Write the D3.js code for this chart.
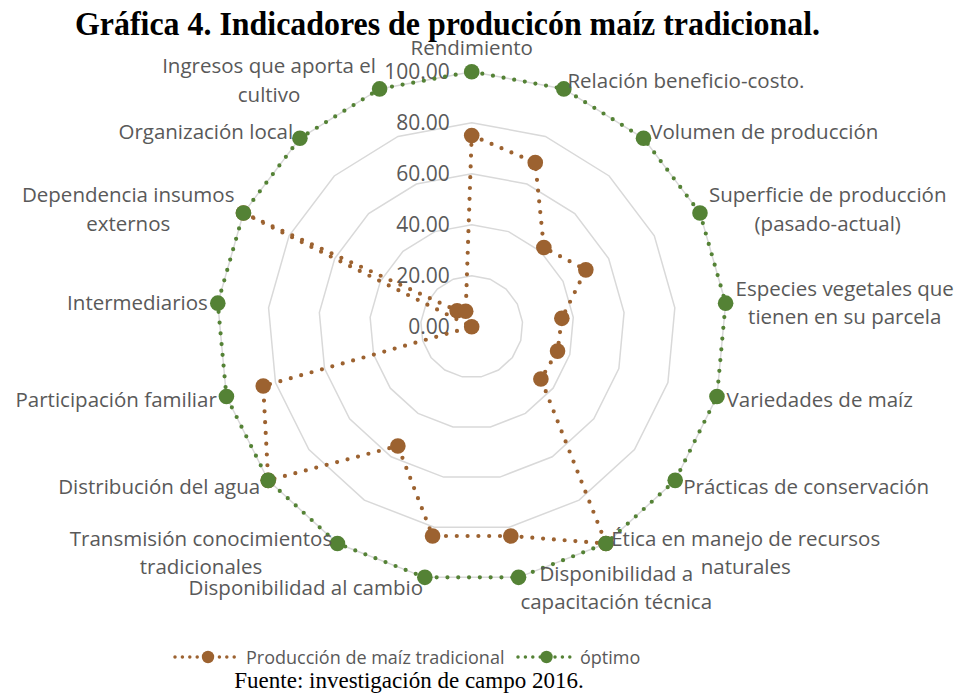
<!DOCTYPE html>
<html>
<head>
<meta charset="utf-8">
<script src="https://cdn.jsdelivr.net/npm/d3@7/dist/d3.min.js"></script>
<style>
  body { margin: 0; background: #fff; }
  text { font-family: "Open Sans", sans-serif; }
</style>
</head>
<body>
<svg id="chart" width="963" height="694"></svg>
<script>
// categories (clockwise from the top), "\n" marks a wrapped label
const categories = [
  "Rendimiento",
  "Relación beneficio-costo.",
  "Volumen de producción",
  "Superficie de producción\n(pasado-actual)",
  "Especies vegetales que\ntienen en su parcela",
  "Variedades de maíz",
  "Prácticas de conservación",
  "Ética en manejo de recursos\nnaturales",
  "Disponibilidad a\ncapacitación técnica",
  "Disponibilidad al cambio",
  "Transmisión conocimientos\ntradicionales",
  "Distribución del agua",
  "Participación familiar",
  "Intermediarios",
  "Dependencia insumos\nexternos",
  "Organización local",
  "Ingresos que aporta el\ncultivo"
];
const produccion = [75, 69, 42, 50, 35.5, 35, 34, 100, 83.5, 83.5, 55, 100, 85, 0, 100, 8.5, 6.5];
const optimo = [100, 100, 100, 100, 100, 100, 100, 100, 100, 100, 100, 100, 100, 100, 100, 100, 100];
const tickValues = [0, 20, 40, 60, 80, 100];
const seriesNames = ["Producción de maíz tradicional", "óptimo"];
const seriesColors = ["#9c6230", "#548235"];

const svg = d3.select('#chart');
const cx = 471.7, cy = 326.7, R = 255;
const n = categories.length;

const r = d3.scaleLinear().domain([0, 100]).range([0, R]);
const angle = d3.scaleLinear().domain([0, n]).range([0, 2 * Math.PI]);

const g = svg.append('g').attr('transform', `translate(${cx},${cy})`);

// grid rings (17-sided polygons)
const ring = d3.lineRadial()
  .angle((d, i) => angle(i))
  .radius(d => r(d))
  .curve(d3.curveLinearClosed);

g.selectAll('.ring')
  .data(tickValues.filter(v => v > 0))
  .enter()
  .append('path')
  .attr('class', 'ring')
  .attr('d', v => ring(d3.range(n).map(() => v)))
  .attr('fill', 'none')
  .attr('stroke', '#d9d9d9')
  .attr('stroke-width', 1.5);

// value axis labels
const yAxis = d3.axisLeft(d3.scaleLinear().domain([0, 100]).range([0, -R]))
  .tickValues(tickValues)
  .tickFormat(d3.format('.2f'))
  .tickSize(0)
  .tickPadding(22);

const ax = g.append('g').call(yAxis);
ax.select('.domain').remove();
ax.selectAll('text')
  .attr('font-family', '"Open Sans", sans-serif')
  .attr('font-size', 21)
  .attr('fill', '#595959')
  .attr('dy', '0.34em');

// series lines + markers
const line = d3.lineRadial()
  .angle((d, i) => angle(i))
  .radius(d => r(d))
  .curve(d3.curveLinearClosed);

[produccion, optimo].forEach((vals, s) => {
  g.append('path')
    .datum(vals)
    .attr('d', line)
    .attr('fill', 'none')
    .attr('stroke', seriesColors[s])
    .attr('stroke-width', 4.2)
    .attr('stroke-linecap', 'round')
    .attr('stroke-dasharray', '0 10.8');

  g.selectAll('.pt' + s)
    .data(vals)
    .enter()
    .append('circle')
    .attr('class', 'pt' + s)
    .attr('cx', (d, i) => r(d) * Math.sin(angle(i)))
    .attr('cy', (d, i) => -r(d) * Math.cos(angle(i)))
    .attr('r', 7.8)
    .attr('fill', seriesColors[s]);
});

// category labels
const lh = 28.5;
categories.forEach((cat, i) => {
  const a = angle(i);
  const sn = Math.sin(a), cs = Math.cos(a);
  const px = cx + (R + 10) * sn, py = cy - (R + 10) * cs;
  const lines = cat.split('\n');
  const t = svg.append('g');
  const texts = lines.map(l => t.append('text')
    .text(l)
    .attr('font-size', 20.5)
    .attr('fill', '#595959')
    .attr('text-anchor', 'middle')
    .attr('dominant-baseline', 'central'));
  const w = d3.max(texts, tx => tx.node().getComputedTextLength());
  const h = lines.length * lh;
  let x = px, yTop = py - h / 2;
  if (sn > 0.1) x = px + w / 2;
  else if (sn < -0.1) x = px - w / 2;
  else if (cs > 0) yTop = py - h;
  else yTop = py;
  texts.forEach((tx, k) => tx.attr('x', x).attr('y', yTop + lh * (k + 0.5)));
});

// title
svg.append('text')
  .attr('x', 447.5)
  .attr('y', 35)
  .attr('text-anchor', 'middle')
  .attr('font-weight', 'bold')
  .attr('font-size', 34)
  .attr('textLength', 745)
  .attr('lengthAdjust', 'spacingAndGlyphs')
  .style('font-family', '"Liberation Serif", serif')
  .text('Gráfica 4. Indicadores de producicón maíz tradicional.');

// legend
const legendX = [[175, 240], [518, 574]];
seriesNames.forEach((name, s) => {
  const [x0, x1] = legendX[s];
  const lg = svg.append('g');
  lg.append('line')
    .attr('x1', x0).attr('x2', x1)
    .attr('y1', 657).attr('y2', 657)
    .attr('stroke', seriesColors[s])
    .attr('stroke-width', 3.5)
    .attr('stroke-linecap', 'round')
    .attr('stroke-dasharray', '0 7.4');
  lg.append('circle')
    .attr('cx', (x0 + x1) / 2 + 0.5)
    .attr('cy', 657)
    .attr('r', 6.2)
    .attr('fill', seriesColors[s]);
  lg.append('text')
    .attr('x', x1 + 6)
    .attr('y', 657)
    .attr('dominant-baseline', 'central')
    .attr('font-size', 18)
    .attr('fill', '#595959')
    .text(name);
});

// source note
svg.append('text')
  .attr('x', 409)
  .attr('y', 688)
  .attr('text-anchor', 'middle')
  .style('font-family', '"Liberation Serif", serif')
  .attr('font-size', 23)
  .attr('fill', '#000')
  .text('Fuente: investigación de campo 2016.');
</script>
</body>
</html>
